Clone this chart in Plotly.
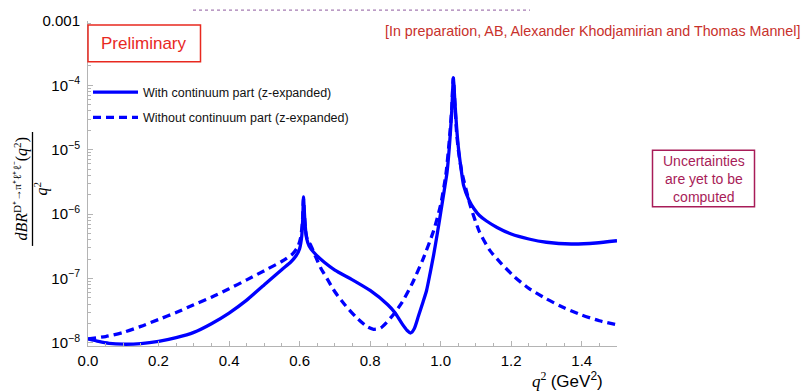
import plotly.graph_objects as go

# Differential branching fraction dBR/dq^2 (per GeV^2) for D+ -> pi+ l+ l-
q2_with = [0.000, 0.03, 0.06, 0.10, 0.15, 0.20, 0.25, 0.30, 0.35, 0.40, 0.45, 0.50,
           0.55, 0.575, 0.59, 0.60, 0.606, 0.609, 0.611, 0.613, 0.616, 0.62, 0.627,
           0.64, 0.67, 0.70, 0.75, 0.80, 0.85, 0.87, 0.89, 0.905, 0.915, 0.925, 0.937,
           0.95, 0.96, 0.97, 0.98, 0.99, 1.00, 1.01, 1.018, 1.024, 1.028, 1.032, 1.036,
           1.040, 1.045, 1.05, 1.058, 1.065, 1.08, 1.095, 1.11, 1.13, 1.16, 1.20, 1.25,
           1.30, 1.37, 1.44, 1.50]
br_with = [1.15e-8, 1.05e-8, 9.8e-9, 9.5e-9, 9.7e-9, 1.05e-8, 1.2e-8, 1.45e-8, 1.98e-8,
           2.9e-8, 4.6e-8, 8.0e-8, 1.38e-7, 1.8e-7, 2.25e-7, 2.9e-7, 4.5e-7, 8.5e-7,
           1.85e-6, 1.2e-6, 6.5e-7, 4.2e-7, 3.2e-7, 2.55e-7, 1.78e-7, 1.35e-7, 9.5e-8,
           6.5e-8, 3.9e-8, 2.95e-8, 2.0e-8, 1.55e-8, 1.42e-8, 1.65e-8, 2.6e-8, 4.3e-8,
           6.5e-8, 1.2e-7, 2.3e-7, 4.8e-7, 1.05e-6, 2.3e-6, 4.4e-6, 1.0e-5, 2.0e-5,
           4.5e-5, 1.3e-4, 6e-5, 2.3e-5, 1.12e-5, 5e-6, 2.8e-6, 1.66e-6, 1.2e-6, 9.5e-7,
           7.8e-7, 6.2e-7, 4.9e-7, 4.1e-7, 3.65e-7, 3.43e-7, 3.55e-7, 3.85e-7]

q2_without = [0.00, 0.05, 0.10, 0.15, 0.20, 0.25, 0.30, 0.35, 0.40, 0.45, 0.50, 0.55,
              0.58, 0.595, 0.603, 0.608, 0.611, 0.614, 0.618, 0.624, 0.63, 0.645, 0.66,
              0.68, 0.70, 0.73, 0.76, 0.79, 0.81, 0.83, 0.86, 0.89, 0.92, 0.95, 0.98,
              1.00, 1.015, 1.025, 1.031, 1.036, 1.040, 1.045, 1.05, 1.06, 1.085, 1.11,
              1.14, 1.17, 1.21, 1.25, 1.30, 1.35, 1.40, 1.45, 1.50]
br_without = [1.15e-8, 1.25e-8, 1.45e-8, 1.8e-8, 2.3e-8, 2.95e-8, 3.9e-8, 5.1e-8, 6.9e-8,
              9.5e-8, 1.32e-7, 1.85e-7, 2.4e-7, 3.1e-7, 4.3e-7, 7.5e-7, 1.7e-6, 9e-7,
              5e-7, 3.7e-7, 3.4e-7, 2.2e-7, 1.45e-7, 9.5e-8, 6.2e-8, 3.8e-8, 2.5e-8,
              1.8e-8, 1.62e-8, 1.7e-8, 2.5e-8, 4.2e-8, 8.5e-8, 2.0e-7, 5.5e-7, 1.4e-6,
              4.2e-6, 1.5e-5, 4e-5, 1.3e-4, 5.5e-5, 1.9e-5, 1.0e-5, 4.5e-6, 1.3e-6,
              5.3e-7, 2.7e-7, 1.75e-7, 1.05e-7, 7.0e-8, 4.8e-8, 3.5e-8, 2.7e-8, 2.2e-8,
              1.9e-8]

x_tick_vals = [0.0, 0.2, 0.4, 0.6, 0.8, 1.0, 1.2, 1.4]
x_tick_text = ["0.0", "0.2", "0.4", "0.6", "0.8", "1.0", "1.2", "1.4"]
y_tick_vals = [1e-8, 1e-7, 1e-6, 1e-5, 1e-4, 1e-3]
y_tick_text = ["10<sup>−8</sup>", "10<sup>−7</sup>", "10<sup>−6</sup>",
               "10<sup>−5</sup>", "10<sup>−4</sup>", "0.001"]
y_minor_vals = [k * 10.0 ** e for e in range(-9, -3) for k in range(2, 10)]

W, H = 805, 391
L, R, T, B = 88, 188, 18, 45
PW, PH = W - L - R, H - T - B


def px(x):
    return (x - L) / PW


def py(y):
    return (H - B - y) / PH


SANS = "Liberation Sans, Arial, sans-serif"
SERIF = "Liberation Serif, Times New Roman, serif"
BLUE = "#0000ff"
AXIS = "#b4b4b4"
X_RANGE = [0, 1.5]
Y_RANGE = [-8.05, -3]

fig = go.Figure()
fig.add_trace(go.Scatter(
    x=q2_with, y=br_with, mode="lines",
    name="With continuum part (z-expanded)", legendgroup="a",
    line=dict(color=BLUE, width=3.3, shape="spline", smoothing=0.6),
))
fig.add_trace(go.Scatter(
    x=q2_without, y=br_without, mode="lines",
    name="Without continuum part (z-expanded)", legendgroup="b",
    line=dict(color=BLUE, width=3.3, dash="8px,5px", shape="spline", smoothing=0.6),
))
# empty trace that carries the minor-tick axes
fig.add_trace(go.Scatter(x=[], y=[], xaxis="x2", yaxis="y2", showlegend=False,
                         hoverinfo="skip"))

fig.update_layout(
    width=W, height=H,
    margin=dict(l=L, r=R, t=T, b=B),
    paper_bgcolor="white", plot_bgcolor="white",
    font=dict(family=SANS, size=15, color="black"),
    showlegend=True,
    legend=dict(
        x=0.0, y=py(75), xanchor="left", yanchor="top",
        bgcolor="rgba(0,0,0,0)", font=dict(family=SANS, size=12.5, color="#111"),
        traceorder="grouped", tracegroupgap=6, itemwidth=45,
    ),
    xaxis=dict(
        range=X_RANGE, showgrid=False, zeroline=False,
        showline=True, linecolor=AXIS, linewidth=1,
        tickmode="array", tickvals=x_tick_vals, ticktext=x_tick_text,
        ticks="inside", ticklen=5, tickcolor=AXIS, tickwidth=1,
        ticklabelstandoff=1,
        tickfont=dict(family=SANS, size=15, color="black"),
    ),
    yaxis=dict(
        type="log", range=Y_RANGE, showgrid=False, zeroline=False,
        showline=True, linecolor=AXIS, linewidth=1,
        tickmode="array", tickvals=y_tick_vals, ticktext=y_tick_text,
        ticks="inside", ticklen=5, tickcolor=AXIS, tickwidth=1,
        ticklabelstandoff=4,
        tickfont=dict(family=SANS, size=15, color="black"),
    ),
    xaxis2=dict(
        overlaying="x", side="bottom", range=X_RANGE, showgrid=False, zeroline=False,
        showline=False, tickmode="linear", tick0=0, dtick=0.05,
        ticks="inside", ticklen=3, tickcolor=AXIS, tickwidth=1, showticklabels=False,
    ),
    yaxis2=dict(
        overlaying="y", side="left", type="log", range=Y_RANGE, showgrid=False,
        zeroline=False, showline=False, tickmode="array", tickvals=y_minor_vals,
        ticks="inside", ticklen=3, tickcolor=AXIS, tickwidth=1, showticklabels=False,
    ),
)

# Rotated fraction for the y-axis label
fig.add_annotation(
    xref="paper", yref="paper", x=px(21), y=py(188),
    text="<i>dBR</i><sup>D⁺→π⁺ℓ⁺ℓ⁻</sup>(<i>q</i><sup>2</sup>)",
    textangle=-90, showarrow=False, xanchor="center", yanchor="middle",
    font=dict(family=SERIF, size=16, color="black"),
)
fig.add_shape(type="line", xref="paper", yref="paper",
              x0=px(32.5), x1=px(32.5), y0=py(130), y1=py(245),
              line=dict(color="black", width=1.3))
fig.add_annotation(
    xref="paper", yref="paper", x=px(41), y=py(187),
    text="<i>q</i><sup>2</sup>", textangle=-90, showarrow=False,
    xanchor="center", yanchor="middle",
    font=dict(family=SERIF, size=16, color="black"),
)

# x-axis label
fig.add_annotation(
    xref="paper", yref="paper", x=px(605), y=py(380),
    text="<i>q</i><sup>2</sup> <span style='font-family:Liberation Sans'>(GeV<sup>2</sup>)</span>",
    showarrow=False, xanchor="right", yanchor="middle",
    font=dict(family=SERIF, size=17, color="black"),
)

# "Preliminary" box
fig.add_shape(type="rect", xref="paper", yref="paper",
              x0=px(88), x1=px(200.5), y0=py(22), y1=py(59),
              line=dict(color="#e8291f", width=1.5), fillcolor="white")
fig.add_annotation(
    xref="paper", yref="paper", x=px(144), y=py(41), text="Preliminary",
    showarrow=False, xanchor="center", yanchor="middle",
    font=dict(family=SANS, size=17, color="#e8291f"),
)

# Citation
fig.add_annotation(
    xref="paper", yref="paper", x=px(802), y=py(28),
    text="[In preparation, AB, Alexander Khodjamirian and Thomas Mannel]",
    showarrow=False, xanchor="right", yanchor="middle",
    font=dict(family=SANS, size=14.3, color="#c8312c"),
)
fig.add_shape(type="line", xref="paper", yref="paper",
              x0=px(193), x1=px(530), y0=py(7), y1=py(7),
              line=dict(color="#8e5a9e", width=1, dash="dot"))

# Note box
fig.add_shape(type="rect", xref="paper", yref="paper",
              x0=px(652.5), x1=px(754.5), y0=py(148.5), y1=py(205.5),
              line=dict(color="#a81c58", width=1.5), fillcolor="white")
fig.add_annotation(
    xref="paper", yref="paper", x=px(703.5), y=py(177),
    text="Uncertainties<br>are yet to be<br>computed",
    showarrow=False, xanchor="center", yanchor="middle", align="center",
    font=dict(family=SANS, size=14, color="#a81c58"),
)

fig.write_html("out.html")
